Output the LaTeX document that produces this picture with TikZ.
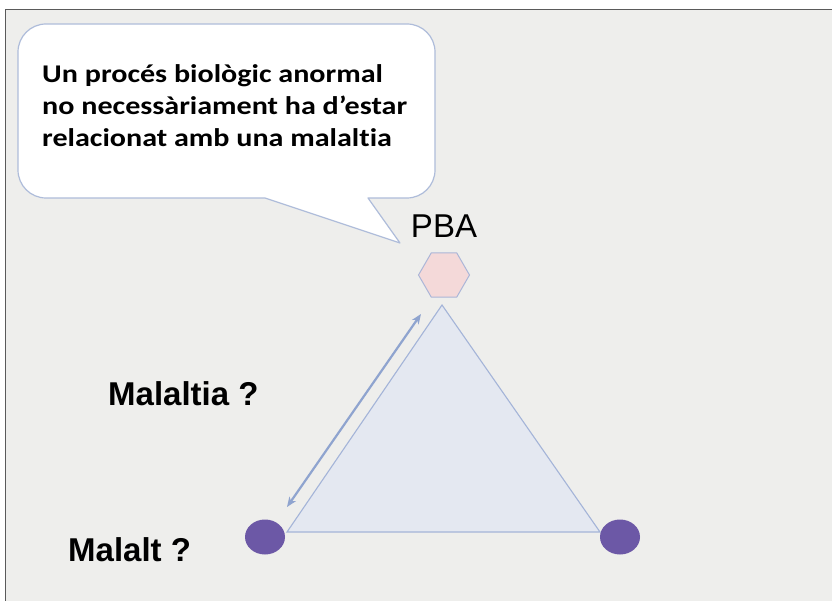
\documentclass[tikz,border=0pt]{standalone}
\usepackage{fontspec}
\setmainfont{Liberation Sans}
\newfontfamily\calibrilike[Ligatures=NoCommon]{Carlito}
\usetikzlibrary{shapes.geometric,arrows.meta,calc}

\definecolor{slidebg}{HTML}{EEEEEC}
\definecolor{framegray}{HTML}{5A5A5A}
\definecolor{bubbleedge}{HTML}{AEBCDA}
\definecolor{hexfill}{HTML}{F4D9D9}
\definecolor{hexedge}{HTML}{ABB6D8}
\definecolor{trifill}{HTML}{E4E8F1}
\definecolor{triedge}{HTML}{A4B4D8}
\definecolor{arrowblue}{HTML}{8FA4CF}
\definecolor{dotpurple}{HTML}{6C58A6}

\tikzset{
  bubble/.style={fill=white, draw=bubbleedge, line width=1.2pt, line join=round},
  hexnode/.style={regular polygon, regular polygon sides=6, minimum size=51pt,
    inner sep=0pt, fill=hexfill, draw=hexedge, line width=1pt},
  dotnode/.style={ellipse, minimum width=40pt, minimum height=35pt, inner sep=0pt,
    fill=dotpurple, draw=none},
  tri/.style={fill=trifill, draw=triedge, line width=1.1pt, line join=miter},
  relarrow/.style={draw=arrowblue, line width=2.2pt,
    {Stealth[length=10pt,width=8pt,inset=3pt]}-{Stealth[length=10pt,width=8pt,inset=3pt]}},
  quote/.style={font=\calibrilike\bfseries\fontsize{25.5}{32}\selectfont, align=left,
    anchor=north west, inner sep=0pt, xscale=1.18, transform shape},
  qlabel/.style={font=\bfseries\fontsize{33}{36}\selectfont, anchor=west, inner sep=0pt},
  toplabel/.style={font=\fontsize{33}{36}\selectfont, inner sep=0pt}
}

\begin{document}
\begin{tikzpicture}[x=1pt,y=-1pt]
  \useasboundingbox (0,0) rectangle (832,601);
  % slide background and its frame
  \fill[white] (0,0) rectangle (832,601);
  \fill[slidebg] (6,10) rectangle (832,601);
  \draw[framegray, line width=1.5pt] (5.5,601) -- (5.5,9.5) -- (832,9.5);

  % speech bubble with its tail (y axis points down, so arcs run accordingly)
  \draw[bubble] (46,24) -- (407,24) arc[start angle=270, end angle=360, radius=28]
    -- (435,170) arc[start angle=0, end angle=90, radius=28]
    -- (368,198) -- (400,243) -- (265,198) -- (46,198)
    arc[start angle=90, end angle=180, radius=28]
    -- (18,52) arc[start angle=180, end angle=270, radius=28] -- cycle;
  \node[quote] (msg) at (42,64) {Un procés biològic anormal\\no necessàriament ha d’estar\\relacionat amb una malaltia};

  % triangle of relations
  \coordinate (apex) at (442,305);
  \coordinate (bl) at (287,532);
  \coordinate (br) at (600,532);
  \filldraw[tri] (apex) -- (bl) -- (br) -- cycle;

  \node[hexnode] (pba) at (444,275) {};
  \node[toplabel] (pbalabel) at (444,226) {PBA};

  \node[dotnode] (malalt) at (265,537) {};
  \node[dotnode] (other) at (620,537) {};

  % relation between the process and the disease
  \coordinate (arrtop) at (421,314);
  \coordinate (arrbot) at (287,507);
  \draw[relarrow] (arrbot) -- (arrtop);

  \node[qlabel] (malaltia) at (108,394) {Malaltia ?};
  \node[qlabel] (malaltq) at (68,550) {Malalt ?};
\end{tikzpicture}
\end{document}
